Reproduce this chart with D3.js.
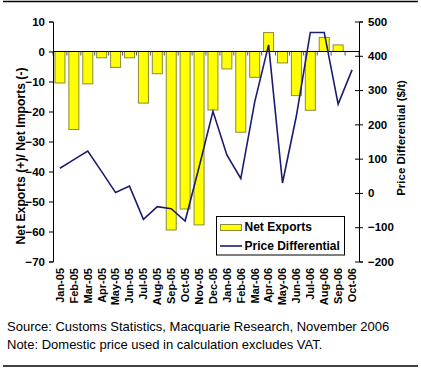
<!DOCTYPE html>
<html><head><meta charset="utf-8">
<script src="https://cdn.jsdelivr.net/npm/d3@7"></script>
<style>
html,body{margin:0;padding:0;background:#fff;}
svg text{font-family:Arial,"Liberation Sans",sans-serif;fill:#000;}
</style></head>
<body><svg id="c" width="421" height="368"></svg>
<script>
const months = ["Jan-05","Feb-05","Mar-05","Apr-05","May-05","Jun-05","Jul-05","Aug-05","Sep-05","Oct-05","Nov-05","Dec-05","Jan-06","Feb-06","Mar-06","Apr-06","May-06","Jun-06","Jul-06","Aug-06","Sep-06","Oct-06"];
const netExports = [-10.5,-26,-10.8,-2.1,-5.3,-2.1,-17.2,-7.4,-59.5,-52.5,-57.8,-19.5,-5.8,-26.9,-8.6,6.3,-3.8,-14.7,-19.6,4.7,2.2,null];
const priceDiff = [72,97,122,62,1,20,-77,-40,-46,-82,75,238,111,42,265,432,29,225,468,468,259,359];
const leftTicks = [10,0,-10,-20,-30,-40,-50,-60,-70];
const rightTicks = [500,400,300,200,100,0,-100,-200];

const svg = d3.select("#c");
const L = 53, R = 359, T = 21.5, B = 261.5;

const x = d3.scaleBand().domain(months).range([L, R]).paddingInner(0.28).paddingOuter(0.14);
const yL = d3.scaleLinear().domain([-70, 10]).range([B, T]);
const yR = d3.scaleLinear().domain([-200, 500]).range([B, T]);

// frame lines
svg.append("line").attr("x1",3).attr("x2",418).attr("y1",1.5).attr("y2",1.5).attr("stroke","#000").attr("stroke-width",1.5);
svg.append("line").attr("x1",3).attr("x2",418).attr("y1",366).attr("y2",366).attr("stroke","#000").attr("stroke-width",1.5);

// bars
svg.append("g").selectAll("rect").data(months.map((m,i)=>({m,v:netExports[i]})).filter(d=>d.v!==null && d.v!==0))
  .join("rect")
  .attr("x", d=>x(d.m))
  .attr("width", x.bandwidth())
  .attr("y", d=>yL(Math.max(0,d.v)))
  .attr("height", d=>Math.abs(yL(d.v)-yL(0)))
  .attr("fill","#ffff00").attr("stroke","#8a8a3a").attr("stroke-width",1);

// zero category line with boundary ticks
const step = x.step();
svg.append("line").attr("x1",L).attr("x2",R).attr("y1",yL(0)).attr("y2",yL(0)).attr("stroke","#000").attr("stroke-width",1);
svg.append("g").selectAll("line").data(d3.range(months.length+1)).join("line")
  .attr("x1",i=>L+i*step).attr("x2",i=>L+i*step)
  .attr("y1",yL(0)).attr("y2",yL(0)+4).attr("stroke","#555").attr("stroke-width",1);

// price line
const line = d3.line().x((d,i)=>x(months[i])+x.bandwidth()/2).y(d=>yR(d));
svg.append("path").datum(priceDiff).attr("d",line).attr("fill","none").attr("stroke","#1c1c6e").attr("stroke-width",1.6);

// left axis
const gl = svg.append("g").attr("transform",`translate(${L},0)`)
  .call(d3.axisLeft(yL).tickValues(leftTicks).tickSize(4).tickPadding(4).tickFormat(d3.format("d")));
gl.select(".domain").attr("stroke","#000");
gl.selectAll("text").style("font-size","11.5px").style("font-weight","bold").attr("font-family",null);
// right axis
const gr = svg.append("g").attr("transform",`translate(${R},0)`)
  .call(d3.axisRight(yR).tickValues(rightTicks).tickSize(4).tickPadding(5).tickFormat(d3.format("d")));
gr.select(".domain").attr("stroke","#000");
gr.selectAll(".tick line").attr("x1",-4).attr("x2",4);
gr.selectAll("text").style("font-size","11.5px").style("font-weight","bold").attr("font-family",null);

// month labels
svg.append("g").selectAll("text").data(months).join("text")
  .attr("transform", d=>`translate(${x(d)+x.bandwidth()/2},268) rotate(-90)`)
  .attr("text-anchor","end").attr("dy","0.35em")
  .style("font-size","11px").style("font-weight","bold")
  .text(d=>d);

// axis titles
svg.append("text").attr("transform",`translate(21,156) rotate(-90)`)
  .attr("text-anchor","middle").attr("dy","0.35em").style("font-size","12.2px").style("font-weight","bold")
  .text("Net Exports (+)/ Net Imports (-)");
svg.append("text").attr("transform",`translate(400.5,138) rotate(-90)`)
  .attr("text-anchor","middle").attr("dy","0.35em").style("font-size","11.5px").style("font-weight","bold")
  .text("Price Differential ($/t)");

// legend
const lg = svg.append("g");
lg.append("rect").attr("x",216.5).attr("y",216.5).attr("width",128).attr("height",38.5).attr("fill","#fff").attr("stroke","#000").attr("stroke-width",1);
lg.append("rect").attr("x",220.5).attr("y",224.5).attr("width",21).attr("height",6).attr("fill","#ffff00").attr("stroke","#8a8a3a");
lg.append("line").attr("x1",220).attr("x2",242).attr("y1",246).attr("y2",246).attr("stroke","#1c1c6e").attr("stroke-width",1.6);
lg.append("text").attr("x",244.5).attr("y",230.5).style("font-size","12px").style("font-weight","bold").text("Net Exports");
lg.append("text").attr("x",244.5).attr("y",249.5).style("font-size","12px").style("font-weight","bold").text("Price Differential");

// notes
svg.append("text").attr("x",7).attr("y",331).style("font-size","13px").text("Source: Customs Statistics, Macquarie Research, November 2006");
svg.append("text").attr("x",7).attr("y",348.5).style("font-size","13px").text("Note: Domestic price used in calculation excludes VAT.");
</script></body></html>
